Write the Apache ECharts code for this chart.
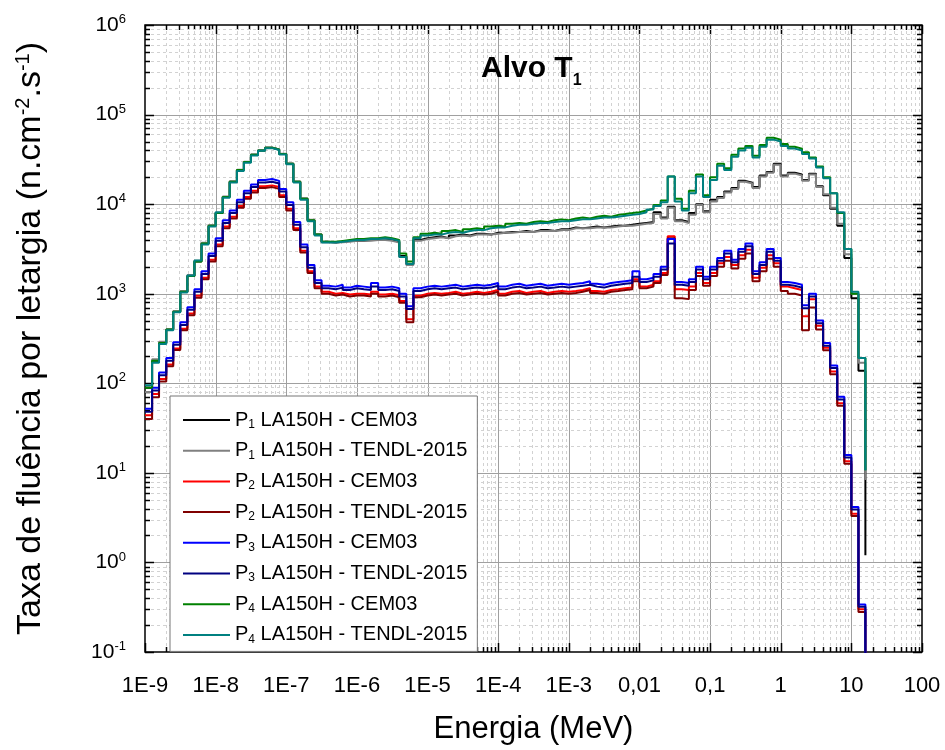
<!DOCTYPE html>
<html><head><meta charset="utf-8">
<script src="https://cdn.jsdelivr.net/npm/echarts@6/dist/echarts.min.js"></script>
<style>html,body{margin:0;padding:0;background:#fff}#c{width:945px;height:750px}</style>
</head><body><div id="c"></div>
<script>
// Bin edges (MeV)
const energies = [
1.00e-9,1.26e-9,1.58e-9,2.00e-9,2.51e-9,3.16e-9,3.98e-9,5.01e-9,6.31e-9,7.94e-9,
1.00e-8,1.26e-8,1.58e-8,2.00e-8,2.51e-8,3.16e-8,3.98e-8,5.01e-8,6.31e-8,7.94e-8,
1.00e-7,1.26e-7,1.58e-7,2.00e-7,2.51e-7,3.16e-7,3.98e-7,5.01e-7,6.31e-7,7.94e-7,
1.00e-6,1.26e-6,1.58e-6,2.00e-6,2.51e-6,3.16e-6,3.98e-6,5.01e-6,6.31e-6,7.94e-6,
1.00e-5,1.26e-5,1.58e-5,2.00e-5,2.51e-5,3.16e-5,3.98e-5,5.01e-5,6.31e-5,7.94e-5,
1.00e-4,1.26e-4,1.58e-4,2.00e-4,2.51e-4,3.16e-4,3.98e-4,5.01e-4,6.31e-4,7.94e-4,
1.00e-3,1.26e-3,1.58e-3,2.00e-3,2.51e-3,3.16e-3,3.98e-3,5.01e-3,6.31e-3,7.94e-3,
1.00e-2,1.26e-2,1.58e-2,2.00e-2,2.51e-2,3.16e-2,3.98e-2,5.01e-2,6.31e-2,7.94e-2,
1.00e-1,1.26e-1,1.58e-1,2.00e-1,2.51e-1,3.16e-1,3.98e-1,5.01e-1,6.31e-1,7.94e-1,
1.00,1.26,1.58,2.00,2.51,3.16,3.98,5.01,6.31,7.94,
10.0,12.6,15.8];

const seriesNames = [
'P1 LA150H - CEM03','P1 LA150H - TENDL-2015',
'P2 LA150H - CEM03','P2 LA150H - TENDL-2015',
'P3 LA150H - CEM03','P3 LA150H - TENDL-2015',
'P4 LA150H - CEM03','P4 LA150H - TENDL-2015'];
const seriesColors = ['#000000','#808080','#ff0000','#800000','#0000ff','#000080','#008000','#008080'];

const p1Cem = [
89,178,282,398,631,1050,1580,2290,3630,5750,
7940,12000,17800,24000,29500,35500,39800,42700,40700,36300,
28200,17800,11500,6610,4570,3800,3720,3800,3890,3890,
3890,3980,3980,4070,3980,3800,2630,2140,3980,4170,
4270,4370,4170,4470,4570,4470,4680,4680,4570,4790,
4790,4900,4900,5010,4900,5130,5130,5010,5250,5250,
5500,5370,5500,5620,5500,5620,5750,5750,5890,6030,
6170,6310,8130,7080,9330,6610,6310,7940,10000,8320,
11200,12000,13800,15100,18200,17400,15500,20900,22900,28200,
20900,22400,21400,18600,21900,15800,12600,8910,5750,2510,
891,138];
const p1Tendl = [
80,185,290,400,640,1070,1620,2340,3700,5800,
8000,12200,18000,24200,29800,35800,40000,42900,40900,36500,
28400,17900,11600,6700,4600,3760,3720,3760,3800,3890,
3890,3890,3980,3980,3890,3720,2570,2090,3890,4070,
4170,4270,4170,4370,4470,4370,4570,4570,4570,4680,
4790,4790,4900,4900,4900,5010,5010,5010,5130,5130,
5370,5370,5370,5500,5500,5500,5620,5750,5750,5890,
6030,6170,7760,6920,9120,6460,6170,7590,9770,8130,
10700,11700,13500,14800,17800,17000,15100,20400,22400,27500,
20400,21900,20900,18200,21400,15500,12900,9120,6030,2750,
1000,170];
const p2Cem = [
44,76,112,162,245,407,602,950,1510,2400,
3550,5620,7240,9550,12000,14100,15800,16200,15500,12600,
8910,5370,3020,1780,1200,1050,1000,1020,980,1000,
1000,980,1050,980,1000,960,830,520,950,1000,
1020,1000,1020,1050,1000,1020,1050,1020,1050,1100,
1000,1050,1070,1020,1050,1070,1020,1050,1070,1050,
1070,1100,1150,1070,1050,1100,1120,1150,1170,1450,
1200,1260,1380,1700,4370,1120,1100,1200,1700,1320,
1700,2190,2570,2090,2690,3090,1510,1950,2690,2190,
1200,1150,1100,560,870,440,250,135,60,13.5,
3.5,0.3];
const p2Tendl = [
40,70,105,155,235,390,575,900,1450,2290,
3390,5370,6920,9120,11500,13500,15100,15500,14800,12000,
8510,5130,2880,1700,1150,1000,955,980,933,955,
955,933,1000,933,955,912,794,480,912,955,
980,955,980,1000,955,980,1000,980,1000,1050,
955,1000,1020,980,1000,1020,980,1000,1020,1000,
1020,1050,1100,1020,1000,1050,1070,1100,1120,1380,
1150,1200,1320,1620,4170,890,870,1100,1580,1230,
1580,2000,2340,1910,2450,2820,1380,1780,2450,2000,
1070,1000,955,390,700,398,234,126,56,12.6,
3.3,0.28];
const p3Cem = [
52,89,132,191,288,479,708,1120,1780,2820,
4170,6610,8510,11200,14100,16600,18600,19100,18200,14800,
10500,6310,3550,2090,1410,1230,1200,1260,1170,1230,
1200,1170,1320,1170,1200,1150,1000,724,1150,1200,
1230,1200,1230,1260,1200,1230,1260,1230,1260,1320,
1200,1260,1290,1230,1260,1290,1230,1260,1290,1260,
1290,1320,1380,1290,1260,1320,1350,1380,1410,1780,
1450,1510,1660,2000,4070,1350,1320,1450,2000,1550,
2000,2510,3020,2400,3160,3630,1780,2240,3160,2510,
1350,1320,1260,741,1000,501,282,158,70.8,15.8,
4.17,0.34];
const p3Tendl = [
48,83,123,178,269,447,661,1050,1660,2630,
3890,6170,7940,10500,13200,15500,17400,17800,17000,13800,
9770,5890,3310,1950,1320,1150,1120,1170,1100,1150,
1120,1100,1200,1100,1120,1070,933,676,1070,1120,
1150,1120,1150,1170,1120,1150,1170,1150,1170,1230,
1120,1170,1200,1150,1170,1200,1150,1170,1200,1170,
1200,1230,1260,1200,1170,1230,1260,1290,1320,1550,
1350,1410,1550,1860,3630,1260,1230,1350,1860,1450,
1860,2340,2820,2240,2950,3390,1660,2090,2950,2340,
1260,1230,1170,690,933,468,263,148,66,14.8,
3.9,0.32];
const p4Cem = [
89,178,282,398,631,1050,1580,2290,3630,5750,
7940,12000,17800,24000,29500,35500,39800,42700,40700,36300,
28200,17800,11500,6610,4570,3800,3800,3890,3980,4070,
4070,4170,4170,4270,4170,3980,2820,2290,4270,4680,
4790,4680,5010,5130,4900,5250,5370,5250,5620,5750,
5620,6030,6170,6030,6310,6460,6310,6610,6760,6610,
6920,7080,6920,7240,7410,7240,7590,7760,7940,8130,
8510,8910,9800,11000,20400,11500,8910,14100,21400,12600,
20000,28200,25100,35500,41700,44700,34700,45700,55000,52500,
46800,43700,41700,38000,33100,26300,20000,13200,7940,3160,
1000,191];
const p4Tendl = [
95,170,275,390,620,1030,1600,2350,3550,5620,
8100,11800,17400,23400,29000,35000,39400,42200,40200,35800,
27800,17400,11200,6460,4470,3720,3720,3800,3890,3980,
3980,4070,4070,4170,4070,3890,2570,2140,4170,4470,
4570,4570,4790,4900,4790,5010,5130,5130,5370,5500,
5500,5750,5890,5890,6030,6170,6170,6310,6460,6460,
6610,6760,6760,6920,7080,7080,7240,7410,7590,7760,
8130,8710,9550,10500,20400,10700,8510,13200,20400,12000,
18600,26900,24000,33900,39800,42700,33100,43700,52500,50100,
44700,41700,39800,36300,32400,25700,19500,13200,8130,3160,
1050,191];
// value reached by the final vertical drop of each histogram
const endDrop = [1.2, 8.3, 0.01, 0.01, 0.01, 0.01, 10.7, 10.7];

const xTickValues = [1e-9,1e-8,1e-7,1e-6,1e-5,1e-4,1e-3,1e-2,1e-1,1,10,100];
const xTickLabels = ['1E-9','1E-8','1E-7','1E-6','1E-5','1E-4','1E-3','0,01','0,1','1','10','100'];
const yTickValues = [0.1,1,10,100,1e3,1e4,1e5,1e6];
const yTickExponents = ['-1','0','1','2','3','4','5','6'];

const allValues = [p1Cem,p1Tendl,p2Cem,p2Tendl,p3Cem,p3Tendl,p4Cem,p4Tendl];
const FONT = '"Liberation Sans", Arial, sans-serif';

function steps(vals, drop) {
  const d = vals.map((v, i) => [energies[i], v]);
  d.push([energies[vals.length], vals[vals.length - 1]]);
  d.push([energies[vals.length], drop]);
  return d;
}

// grid helper positions (major + minor decades)
const xGrid = [];
for (let e = -9; e <= 2; e++) {
  for (let m = 1; m <= 9; m++) {
    if (e === 2 && m > 1) break;
    xGrid.push([m * Math.pow(10, e), 1, m === 1 ? 1 : 0]);
  }
}
const yGrid = [];
for (let e = -1; e <= 6; e++) {
  for (let m = 1; m <= 9; m++) {
    if (e === 6 && m > 1) break;
    yGrid.push([1e-3, m * Math.pow(10, e), m === 1 ? 1 : 0]);
  }
}

const lineSeries = seriesNames.map((n, i) => ({
  name: n, type: 'line', step: 'end', showSymbol: false, symbol: 'none',
  data: steps(allValues[i], endDrop[i]),
  lineStyle: { width: 2, color: seriesColors[i] },
  itemStyle: { color: seriesColors[i] },
  z: 3, animation: false, clip: true
}));

function gridRender(isX) {
  return function (params, api) {
    const cs = params.coordSys;
    const major = api.value(2) === 1;
    const ch = [];
    if (isX) {
      const x = Math.round(api.coord([api.value(0), 1])[0]) + 0.5;
      const t = cs.y, b = cs.y + cs.height;
      if (x > cs.x + 2 && x < cs.x + cs.width - 2) {
        ch.push({ type: 'line', shape: { x1: x, y1: t, x2: x, y2: b },
          style: major ? { stroke: '#a0a0a0', lineWidth: 1 } : { stroke: '#d2d2d2', lineWidth: 1, lineDash: [3, 3] } });
      }
      const L = major ? 9 : 5;
      ch.push({ type: 'line', shape: { x1: x, y1: b, x2: x, y2: b - L }, style: { stroke: '#000', lineWidth: 1.5 } });
      ch.push({ type: 'line', shape: { x1: x, y1: t, x2: x, y2: t + L }, style: { stroke: '#000', lineWidth: 1.5 } });
    } else {
      const y = Math.round(api.coord([1e-3, api.value(1)])[1]) + 0.5;
      const l = cs.x, r = cs.x + cs.width;
      if (y > cs.y + 2 && y < cs.y + cs.height - 2) {
        ch.push({ type: 'line', shape: { x1: l, y1: y, x2: r, y2: y },
          style: major ? { stroke: '#a0a0a0', lineWidth: 1 } : { stroke: '#d2d2d2', lineWidth: 1, lineDash: [3, 3] } });
      }
      const L = major ? 9 : 5;
      ch.push({ type: 'line', shape: { x1: l, y1: y, x2: l + L, y2: y }, style: { stroke: '#000', lineWidth: 1.5 } });
      ch.push({ type: 'line', shape: { x1: r, y1: y, x2: r - L, y2: y }, style: { stroke: '#000', lineWidth: 1.5 } });
    }
    return { type: 'group', children: ch };
  };
}

const chart = echarts.init(document.getElementById('c'), null, { renderer: 'canvas' });
chart.setOption({
  animation: false,
  backgroundColor: '#fff',
  grid: { left: 145, right: 23, top: 25, bottom: 94, show: true, borderColor: '#000', borderWidth: 1.5, backgroundColor: 'transparent' },
  xAxis: {
    type: 'log', logBase: 10, min: 1e-9, max: 100,
    name: 'Energia (MeV)', nameLocation: 'middle', nameGap: 62,
    nameTextStyle: { fontFamily: FONT, fontSize: 31, color: '#000' },
    axisLine: { show: false }, axisTick: { show: false }, splitLine: { show: false }, minorTick: { show: false },
    axisLabel: {
      customValues: xTickValues, margin: 23, fontFamily: FONT, fontSize: 22, color: '#000',
      formatter: function (v) {
        for (let i = 0; i < xTickValues.length; i++) {
          if (Math.abs(Math.log10(v) - Math.log10(xTickValues[i])) < 1e-6) return xTickLabels[i];
        }
        return '';
      }
    }
  },
  yAxis: {
    type: 'log', logBase: 10, min: 0.1, max: 1e6,
    name: '{n|Taxa de fluência por letargia (n.cm}{s|-2}{n|.s}{s|-1}{n|)}',
    nameLocation: 'middle', nameRotate: 90, nameGap: 96,
    nameTextStyle: { fontFamily: FONT, fontSize: 34, color: '#000',
      rich: { n: { fontFamily: FONT, fontSize: 34, lineHeight: 36, color: '#000' },
              s: { fontFamily: FONT, fontSize: 20, lineHeight: 16, verticalAlign: 'top', color: '#000' } } },
    axisLine: { show: false }, axisTick: { show: false }, splitLine: { show: false }, minorTick: { show: false },
    axisLabel: {
      customValues: yTickValues, margin: 19, color: '#000',
      formatter: function (v) {
        for (let i = 0; i < yTickValues.length; i++) {
          if (Math.abs(Math.log10(v) - Math.log10(yTickValues[i])) < 1e-6) return '{b|10}{s|' + yTickExponents[i] + '}';
        }
        return '';
      },
      rich: { b: { fontFamily: FONT, fontSize: 21, lineHeight: 24, color: '#000' },
              s: { fontFamily: FONT, fontSize: 13, lineHeight: 12, verticalAlign: 'top', color: '#000' } }
    }
  },
  legend: {
    orient: 'vertical', left: 170, top: 396, data: seriesNames,
    icon: 'rect', itemWidth: 47, itemHeight: 2, itemGap: 10.2,
    padding: [14, 10, 6, 13], borderColor: '#777', borderWidth: 1, backgroundColor: '#fff',
    selectedMode: false,
    formatter: function (n) {
      const num = n.charAt(1), rest = n.slice(2);
      return '{p|P}{s|' + num + '}{t|' + rest + '}';
    },
    textStyle: { fontFamily: FONT, fontSize: 20, color: '#000',
      rich: { p: { fontFamily: FONT, fontSize: 20, lineHeight: 21, color: '#000' },
              s: { fontFamily: FONT, fontSize: 12, lineHeight: 8, verticalAlign: 'bottom', color: '#000' },
              t: { fontFamily: FONT, fontSize: 20, lineHeight: 21, color: '#000' } } }
  },
  graphic: [{
    type: 'text', left: 481, top: 54, z: 10,
    style: { text: '{a|Alvo T}{s|1}', fill: '#000',
      rich: { a: { fontFamily: FONT, fontSize: 30, fontWeight: 'bold', lineHeight: 40, fill: '#000' },
              s: { fontFamily: FONT, fontSize: 16, fontWeight: 'bold', lineHeight: 8, verticalAlign: 'bottom', fill: '#000' } } }
  }],
  series: [
    { type: 'custom', name: 'gridX', silent: true, z: 1, data: xGrid, encode: { x: 0, y: 1 }, renderItem: gridRender(true), clip: false },
    { type: 'custom', name: 'gridY', silent: true, z: 1, data: yGrid, encode: { x: 0, y: 1 }, renderItem: gridRender(false), clip: false }
  ].concat(lineSeries)
});
</script>
</body></html>
